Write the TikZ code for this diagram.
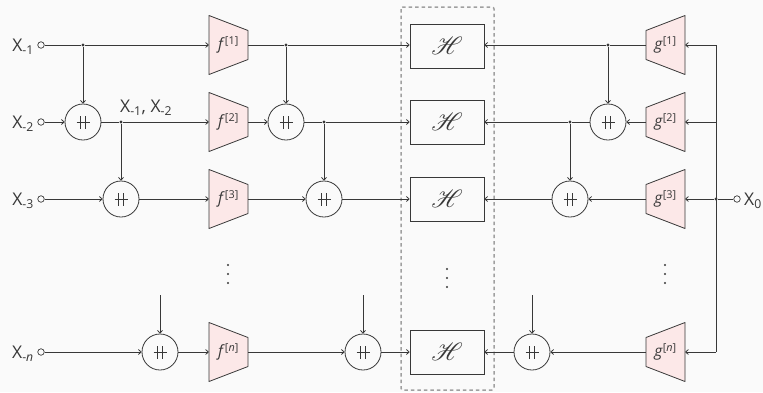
\documentclass[tikz,border=0pt]{standalone}
\usepackage{fontspec}
\setmainfont{Open Sans}
\usepackage{mathrsfs}
\usetikzlibrary{arrows.meta}
\definecolor{ink}{HTML}{383838}
\definecolor{trapfill}{HTML}{FCE8E8}
\definecolor{bg}{HTML}{FAFAFA}
\definecolor{dashgray}{HTML}{A0A0A0}
\newcommand\ftrap[4]{%
  \filldraw[trapshape] (#2-19.5,#3-29.5) -- (#2+19.5,#3-14.5) -- (#2+19.5,#3+14.5) -- (#2-19.5,#3+29.5) -- cycle;
  \node[trapnode] (#1) at (#2,#3) {#4};}
\newcommand\gtrap[4]{%
  \filldraw[trapshape] (#2-19.5,#3-14.5) -- (#2+19.5,#3-29.5) -- (#2+19.5,#3+29.5) -- (#2-19.5,#3+14.5) -- cycle;
  \node[trapnode] (#1) at (#2,#3) {#4};}
\newcommand\vdts[3]{%
  \node[vdot] (#1a) at (#2,#3-9) {};
  \node[vdot] (#1b) at (#2,#3) {};
  \node[vdot] (#1c) at (#2,#3+9) {};}
\newcommand\fl[2]{{\itshape #1\/}\textsuperscript{[{\itshape #2}]}}
\newcommand\fln[2]{{\itshape #1\/}\textsuperscript{[#2]}}
\newcommand\xl[1]{X\textsubscript{#1}}
\begin{document}
\begin{tikzpicture}[x=1pt,y=-1pt,
  text=ink,
  lblfont/.style={font=\fontsize{17.5}{20}\selectfont},
  trapfont/.style={font=\fontsize{15.5}{18}\selectfont},
  ln/.style={draw=ink, line width=0.8pt},
  thk/.style={draw=ink, line width=1.0pt},
  arr/.style={draw=ink, line width=0.8pt, -{To[length=3.5pt,width=5.5pt]}},
  cat/.style={circle, draw=ink, line width=0.8pt, minimum size=36pt, inner sep=0,
    path picture={
      \draw[ink, line width=0.7pt] ([xshift=-6.5pt]path picture bounding box.center) -- ([xshift=6.5pt]path picture bounding box.center);
      \draw[ink, line width=0.7pt] ([shift={(-2.2pt,-6.5pt)}]path picture bounding box.center) -- ([shift={(-2.2pt,6.5pt)}]path picture bounding box.center);
      \draw[ink, line width=0.7pt] ([shift={(2.2pt,-6.5pt)}]path picture bounding box.center) -- ([shift={(2.2pt,6.5pt)}]path picture bounding box.center);
    }},
  term/.style={circle, draw=ink, line width=0.7pt, fill=bg, minimum size=6.5pt, inner sep=0},
  dot/.style={circle, fill=ink, minimum size=3.2pt, inner sep=0},
  vdot/.style={circle, fill=ink, minimum size=2.4pt, inner sep=0},
  hbox/.style={rectangle, draw=ink, line width=0.8pt, minimum width=74pt, minimum height=44pt, inner sep=0, font=\fontsize{25}{28}\selectfont},
  trapshape/.style={fill=trapfill, draw=ink, line width=0.8pt, line join=round},
  trapnode/.style={rectangle, minimum width=39pt, minimum height=59pt, inner sep=0, trapfont},
  lbl/.style={inner sep=0, lblfont},
]
\fill[bg] (0,0) rectangle (763,392);
\useasboundingbox (0,0) rectangle (763,392);

% dashed box
\draw[dashgray, line width=1.5pt, dash pattern=on 3.5pt off 3pt, rounded corners=2pt] (401,7) rectangle (494,390);

% input terminals
\node[term] (i1) at (41,45) {};
\node[term] (i2) at (41,122) {};
\node[term] (i3) at (41,199) {};
\node[term] (in) at (41,352) {};
\node[lbl, anchor=east] (li1) at (34,47) {\xl{-1}};
\node[lbl, anchor=east] (li2) at (34,124) {\xl{-2}};
\node[lbl, anchor=east] (li3) at (34,201) {\xl{-3}};
\node[lbl, anchor=east] (lin) at (34,354) {\xl{-{\itshape n}}};

% output terminal
\node[term] (i0) at (737,199) {};
\node[lbl, anchor=west] (li0) at (744,201) {\xl{0}};

% f trapezoids
\ftrap{f1}{228.5}{45}{\fln{f}{1}}
\ftrap{f2}{228.5}{122}{\fln{f}{2}}
\ftrap{f3}{228.5}{199}{\fln{f}{3}}
\ftrap{fn}{228.5}{352}{\fl{f}{n}}
% g trapezoids
\gtrap{g1}{665.5}{45}{\fln{g}{1}}
\gtrap{g2}{665.5}{122}{\fln{g}{2}}
\gtrap{g3}{665.5}{199}{\fln{g}{3}}
\gtrap{gn}{665.5}{352}{\fl{g}{n}}

% H boxes
\node[hbox] (h1) at (447,46) {$\mathscr{H}$};
\node[hbox] (h2) at (447,122) {$\mathscr{H}$};
\node[hbox] (h3) at (447,199) {$\mathscr{H}$};
\node[hbox] (hn) at (447,352) {$\mathscr{H}$};

% concat nodes
\node[cat] (c2a) at (83,122) {};
\node[cat] (c3a) at (121,199) {};
\node[cat] (cna) at (160,352) {};
\node[cat] (c2b) at (286,122) {};
\node[cat] (c3b) at (324,199) {};
\node[cat] (cnb) at (363,352) {};
\node[cat] (c2c) at (608,122) {};
\node[cat] (c3c) at (570,199) {};
\node[cat] (cnc) at (532,352) {};

% vertical dots
\vdts{df}{228}{274}
\vdts{dh}{447}{278}
\vdts{dg}{665}{274}

% junctions
\node[dot] (j1) at (83,45) {};
\node[dot] (j2) at (121,122) {};
\node[dot] (k1) at (286,45) {};
\node[dot] (k2) at (324,122) {};
\node[dot] (m1) at (608,45) {};
\node[dot] (m2) at (570,122) {};
\node[dot] (b3) at (716,199) {};
\coordinate (b1) at (716,45);
\coordinate (b2) at (716,122);
\coordinate (bn) at (716,352);
\coordinate (ua) at (160,295);
\coordinate (ub) at (363,295);
\coordinate (uc) at (532,295);

\node[lbl, anchor=south west] (lx) at (120,116) {\xl{-1}, \xl{-2}};

% left part
\draw[thk] (i1) -- (j1);
\draw[arr] (j1) -- (f1.west);
\draw[arr] (j1) -- (c2a.north);
\draw[arr] (i2) -- (c2a.west);
\draw[ln] (c2a.east) -- (j2);
\draw[arr] (j2) -- (f2.west);
\draw[arr] (j2) -- (c3a.north);
\draw[arr] (i3) -- (c3a.west);
\draw[arr] (c3a.east) -- (f3.west);
\draw[arr] (in) -- (cna.west);
\draw[arr] (ua) -- (cna.north);
\draw[arr] (cna.east) -- (fn.west);

% middle part
\draw[thk] (f1.east) -- (k1);
\draw[arr] (k1) -- (h1.west |- k1);
\draw[arr] (k1) -- (c2b.north);
\draw[arr] (f2.east) -- (c2b.west);
\draw[ln] (c2b.east) -- (k2);
\draw[arr] (k2) -- (h2.west);
\draw[arr] (k2) -- (c3b.north);
\draw[arr] (f3.east) -- (c3b.west);
\draw[arr] (c3b.east) -- (h3.west);
\draw[arr] (fn.east) -- (cnb.west);
\draw[arr] (ub) -- (cnb.north);
\draw[arr] (cnb.east) -- (hn.west);

% right part
\draw[thk] (g1.west) -- (m1);
\draw[arr] (m1) -- (h1.east |- m1);
\draw[arr] (m1) -- (c2c.north);
\draw[arr] (g2.west) -- (c2c.east);
\draw[ln] (c2c.west) -- (m2);
\draw[arr] (m2) -- (h2.east);
\draw[arr] (m2) -- (c3c.north);
\draw[arr] (g3.west) -- (c3c.east);
\draw[arr] (c3c.west) -- (h3.east);
\draw[arr] (gn.west) -- (cnc.east);
\draw[arr] (uc) -- (cnc.north);
\draw[arr] (cnc.west) -- (hn.east);

% bus
\draw[ln] (b1) -- (bn);
\draw[arr] (b1) -- (g1.east);
\draw[arr] (b2) -- (g2.east);
\draw[arr] (b3) -- (g3.east);
\draw[arr] (bn) -- (gn.east);
\draw[thk] (i0) -- (b3);
\end{tikzpicture}
\end{document}
